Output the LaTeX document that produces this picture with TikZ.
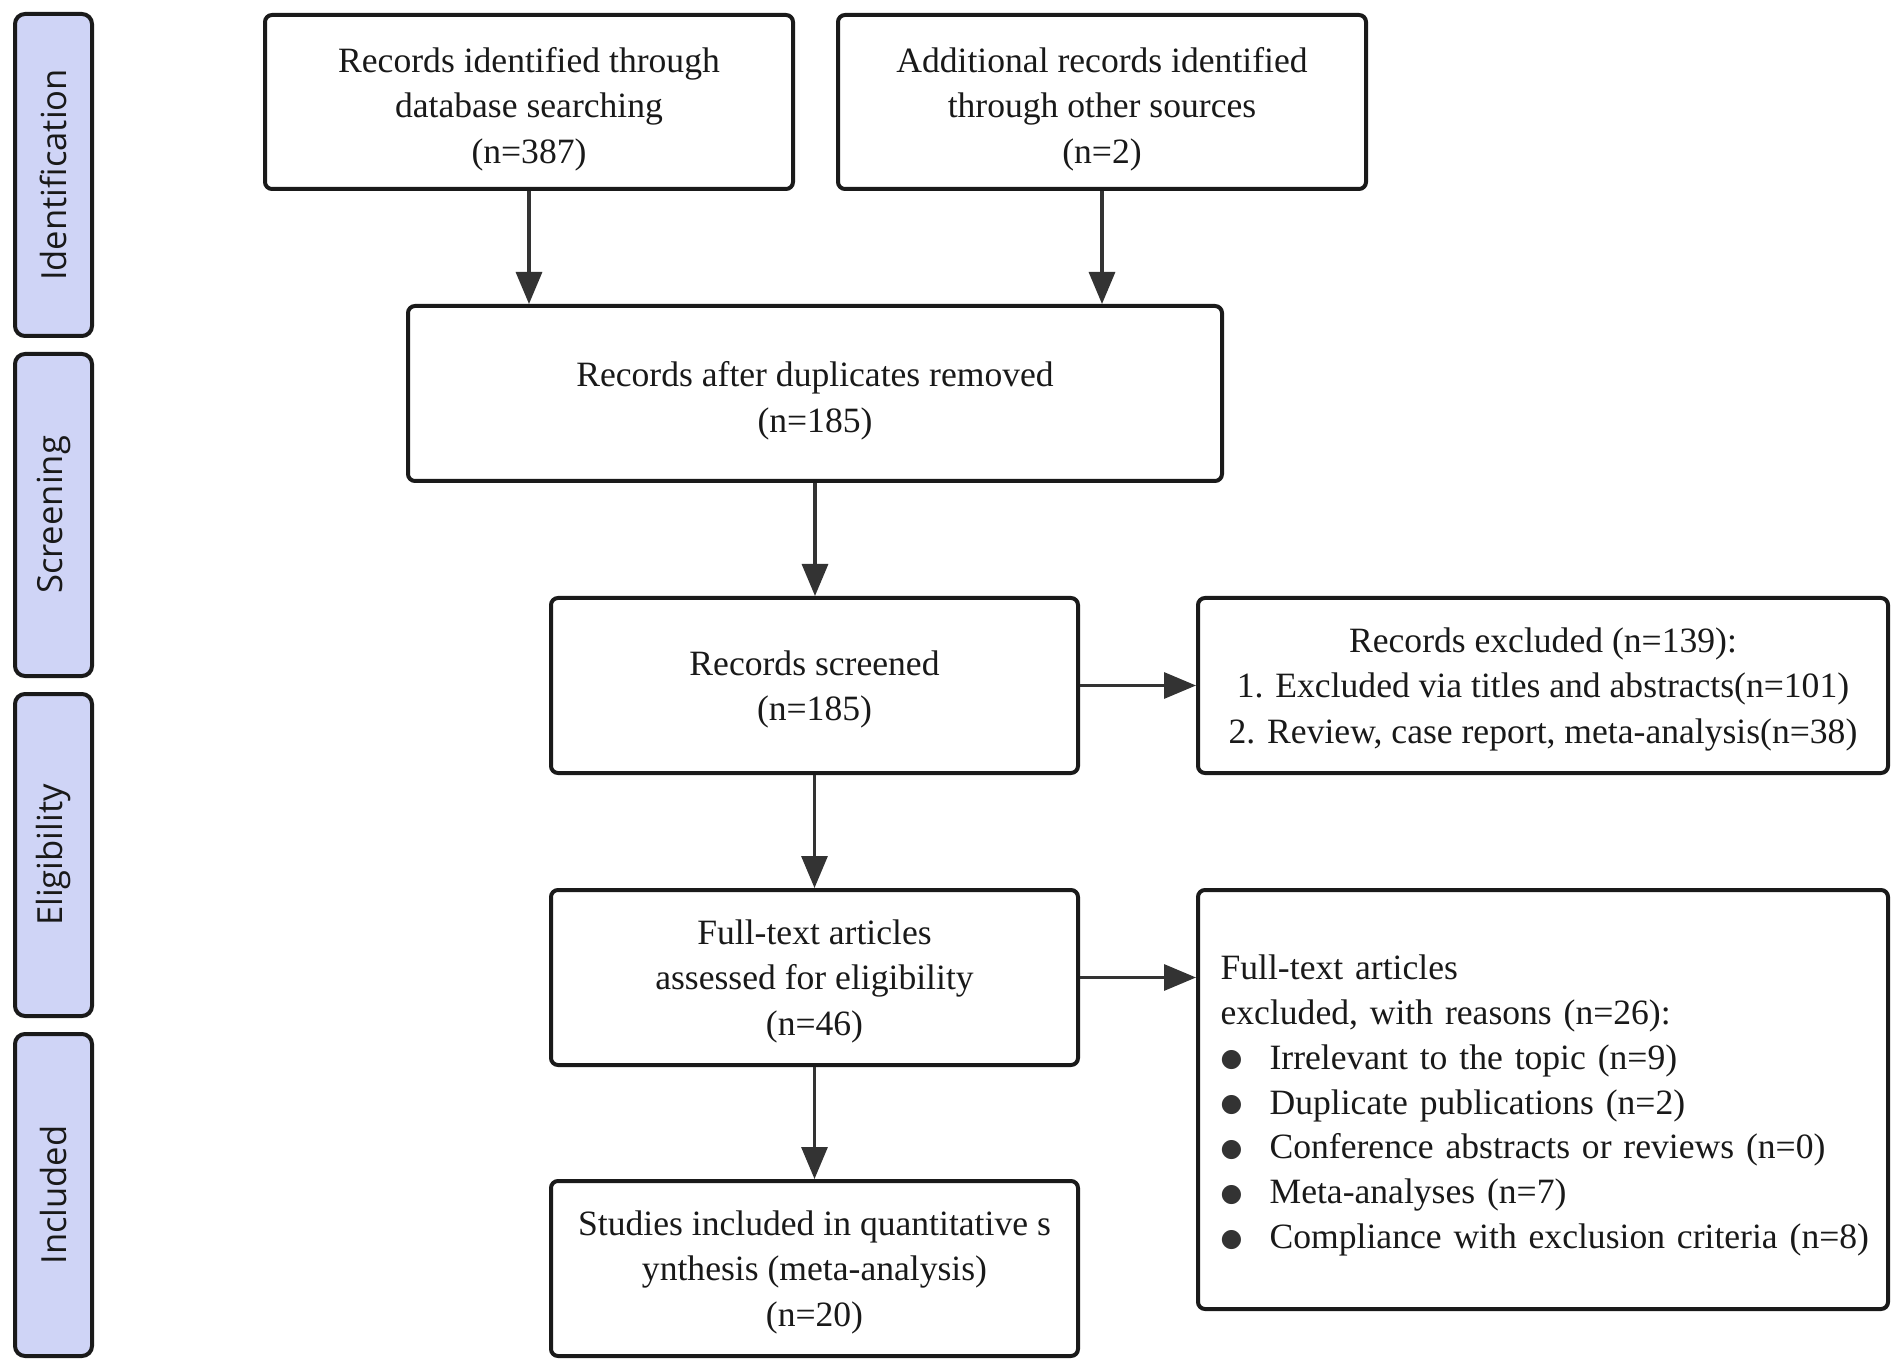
\documentclass[tikz,border=0pt]{standalone}
\usepackage{fontspec}
\setmainfont{Liberation Serif}
\newfontfamily\lanefont{Open Sans}
\newfontfamily\symfont{DejaVu Sans}
\usetikzlibrary{arrows.meta}
\definecolor{lanefill}{RGB}{207,212,246}
\definecolor{edgecol}{RGB}{26,26,26}
\definecolor{arrcol}{RGB}{51,51,51}
\newcommand\bitem[1]{\mbox{\makebox[24.5pt][l]{\raisebox{1.2pt}{\textcolor{arrcol}{\symfont\fontsize{12.5}{12.5}\selectfont ●}}}#1}}
\newcommand\topstrut{\rule{0pt}{16pt}}
\tikzset{
  box/.style={draw=edgecol, line width=2pt, rounded corners=3.5pt, fill=white, align=center,
    inner sep=0pt, font=\fontsize{17.8}{22.7}\selectfont, text=black!90, text depth=-4pt},
  lane/.style={draw=edgecol, line width=2pt, rounded corners=5pt, fill=lanefill,
    minimum width=161pt, minimum height=38.5pt, inner sep=0pt, rotate=90,
    font=\lanefont\fontsize{17.3}{17.3}\selectfont, text=black!90},
  flow/.style={draw=arrcol, line width=1.6pt, -{Triangle[length=16pt,width=13pt]}}
}
\begin{document}
\begin{tikzpicture}[x=0.5pt,y=-0.5pt]
\useasboundingbox[fill=white] (0,0) rectangle (1902,1369);

% lanes
\node[lane] (l1) at (53.5,175) {Identification};
\node[lane] (l2) at (53.5,515) {Screening};
\node[lane] (l3) at (53.5,855) {Eligibility};
\node[lane] (l4) at (53.5,1195) {Included};

% boxes
\node[box, minimum width=264pt, minimum height=87pt] (b1) at (529,102)
  {\topstrut Records identified through\\database searching\\(n=387)};
\node[box, minimum width=264pt, minimum height=87pt] (b2) at (1102,102)
  {\topstrut Additional records identified\\through other sources\\(n=2)};
\node[box, minimum width=407pt, minimum height=87.5pt] (dup) at (815,393.5)
  {\topstrut Records after duplicates removed\\(n=185)};
\node[box, minimum width=263.5pt, minimum height=87.5pt] (scr) at (814.5,685.5)
  {Records screened\\(n=185)};
\node[box, minimum width=345pt, minimum height=87.5pt] (exc) at (1543,685.5)
  {Records excluded (n=139):\\1. Excluded via titles and abstracts(n=101)\\2. Review, case report, meta-analysis(n=38)};
\node[box, minimum width=263.5pt, minimum height=87.5pt] (ft) at (814.5,977.5)
  {Full-text articles\\assessed for eligibility\\(n=46)};
\node[box, minimum width=345pt, minimum height=209.5pt, align=left, text width=322.4pt,
  inner xsep=11.3pt, text depth={}, font=\fontsize{17.8}{22.4}\selectfont] (exc2) at (1543,1099.5)
  {\rule{0pt}{18.3pt}\mbox{Full-text articles}\\
   \mbox{excluded, with reasons (n=26):}\\
   \bitem{Irrelevant to the topic (n=9)}\\
   \bitem{Duplicate publications (n=2)}\\
   \bitem{Conference abstracts or reviews (n=0)}\\
   \bitem{Meta-analyses (n=7)}\\
   \bitem{Compliance with exclusion criteria (n=8)}};
\node[box, minimum width=263.5pt, minimum height=87.5pt] (st) at (814.5,1268.5)
  {Studies included in quantitative s\\ynthesis (meta-analysis)\\(n=20)};

% connectors
\draw[flow] (b1.south) -- (b1.south |- dup.north);
\draw[flow] (b2.south) -- (b2.south |- dup.north);
\draw[flow] (dup.south) -- (dup.south |- scr.north);
\draw[flow] (scr.east) -- (exc.west);
\draw[flow] (scr.south) -- (ft.north);
\draw[flow] (ft.east) -- (ft.east -| exc2.west);
\draw[flow] (ft.south) -- (st.north);
\end{tikzpicture}
\end{document}
